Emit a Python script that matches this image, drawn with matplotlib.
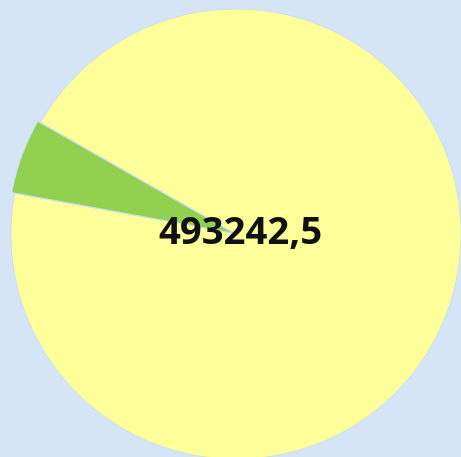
import matplotlib
matplotlib.use("Agg")
import matplotlib.pyplot as plt

# slice values (green, yellow)
labels = ["", "493242,5"]
values = [28000, 493242.5]
colors = ["#92d050", "#ffff99"]
explode = [0.013, 0]

fig = plt.figure(figsize=(4.61, 4.57), dpi=100)
fig.patch.set_facecolor("#d5e5f5")
ax = fig.add_axes([0, 0, 1, 1])
ax.set_facecolor("#d5e5f5")

wedges, texts = ax.pie(values, labels=labels, colors=colors, explode=explode,
                       startangle=150.3, counterclock=True, labeldistance=0,
                       wedgeprops={"edgecolor": "#c8def2", "linewidth": 0.6},
                       textprops={"fontsize": 27.5, "fontweight": "bold",
                                  "family": "Open Sans", "color": "#111111"})
for t in texts:
    t.set_ha("center")
    t.set_va("center")
    t.set_position((0.018, 0.0))

ax.set_xlim(-236 / 225, (461 - 236) / 225)
ax.set_ylim(-(457 - 234) / 225, 234 / 225)
ax.set_aspect("auto")
ax.axis("off")

fig.savefig("out.png", dpi=100, facecolor=fig.get_facecolor())
